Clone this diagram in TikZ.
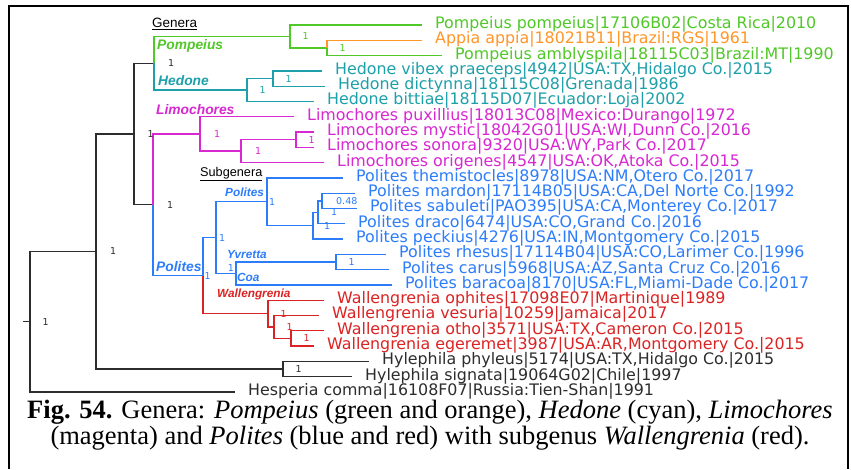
\documentclass[tikz,border=0pt]{standalone}
\usepackage{fontspec}
\setmainfont{DejaVu Sans}
\newfontfamily\cladefont{Liberation Sans}
\newfontfamily\capfont{Liberation Serif}
\usetikzlibrary{positioning}
\definecolor{PMgreen}{RGB}{80,200,40}
\definecolor{PMorange}{RGB}{255,150,40}
\definecolor{HDcyan}{RGB}{30,160,170}
\definecolor{LMmagenta}{RGB}{215,40,210}
\definecolor{PLblue}{RGB}{45,125,250}
\definecolor{WLred}{RGB}{220,35,35}
\definecolor{OGgrey}{RGB}{45,45,45}

\begin{document}
\begin{tikzpicture}[
      x=1pt,y=-1pt,
      node distance=12.5pt,
      branch/.style={line width=1.3pt},
      leaf/.style={anchor=west,inner xsep=13pt,inner ysep=0pt,text height=0.68em,text depth=0pt,font=\fontsize{15.85}{16}\selectfont},
      support/.style={inner sep=0pt,font=\fontsize{9.5}{10}\selectfont},
      genus/.style={anchor=west,inner sep=0pt,font=\cladefont\bfseries\itshape\fontsize{13.8}{14}\selectfont},
      subgenus/.style={anchor=west,inner sep=0pt,font=\cladefont\bfseries\itshape\fontsize{11.8}{12}\selectfont},
      header/.style={anchor=west,inner sep=0pt,text=black,font=\cladefont\fontsize{13.5}{14}\selectfont},
      caption/.style={align=center,inner sep=0pt,font=\capfont\fontsize{26.5}{25.5}\selectfont}
    ]
    \useasboundingbox (0,0) rectangle (851,469);
    \fill[white] (0,0) rectangle (851,469);
    \draw[line width=2.5pt] (9,469) -- (9,6) -- (848,6) -- (848,469);

    % leaves
    \node[leaf,text=PMgreen] (pompeius) at (422,25.0) {Pompeius pompeius|17106B02|Costa Rica|2010};
    \node[leaf,text=PMorange] (appia) at (422,40.3) {Appia appia|18021B11|Brazil:RGS|1961};
    \node[leaf,text=PMgreen] (amblyspila) at (442,55.6) {Pompeius amblyspila|18115C03|Brazil:MT|1990};
    \node[leaf,text=HDcyan] (vibex) at (322,70.9) {Hedone vibex praeceps|4942|USA:TX,Hidalgo Co.|2015};
    \node[leaf,text=HDcyan] (dictynna) at (325,86.2) {Hedone dictynna|18115C08|Grenada|1986};
    \node[leaf,text=HDcyan] (bittiae) at (314,101.5) {Hedone bittiae|18115D07|Ecuador:Loja|2002};
    \node[leaf,text=LMmagenta] (puxillius) at (294,116.7) {Limochores puxillius|18013C08|Mexico:Durango|1972};
    \node[leaf,text=LMmagenta] (mystic) at (314,132.0) {Limochores mystic|18042G01|USA:WI,Dunn Co.|2016};
    \node[leaf,text=LMmagenta] (sonora) at (314,147.3) {Limochores sonora|9320|USA:WY,Park Co.|2017};
    \node[leaf,text=LMmagenta] (origenes) at (324,162.6) {Limochores origenes|4547|USA:OK,Atoka Co.|2015};
    \node[leaf,text=PLblue] (themistocles) at (343,177.9) {Polites themistocles|8978|USA:NM,Otero Co.|2017};
    \node[leaf,text=PLblue] (mardon) at (355,193.2) {Polites mardon|17114B05|USA:CA,Del Norte Co.|1992};
    \node[leaf,text=PLblue] (sabuleti) at (357,208.5) {Polites sabuleti|PAO395|USA:CA,Monterey Co.|2017};
    \node[leaf,text=PLblue] (draco) at (345,223.8) {Polites draco|6474|USA:CO,Grand Co.|2016};
    \node[leaf,text=PLblue] (peckius) at (343,239.1) {Polites peckius|4276|USA:IN,Montgomery Co.|2015};
    \node[leaf,text=PLblue] (rhesus) at (386,254.4) {Polites rhesus|17114B04|USA:CO,Larimer Co.|1996};
    \node[leaf,text=PLblue] (carus) at (389,269.7) {Polites carus|5968|USA:AZ,Santa Cruz Co.|2016};
    \node[leaf,text=PLblue] (baracoa) at (392,285.0) {Polites baracoa|8170|USA:FL,Miami-Dade Co.|2017};
    \node[leaf,text=WLred] (ophites) at (324,300.3) {Wallengrenia ophites|17098E07|Martinique|1989};
    \node[leaf,text=WLred] (vesuria) at (319,315.5) {Wallengrenia vesuria|10259|Jamaica|2017};
    \node[leaf,text=WLred] (otho) at (324,330.8) {Wallengrenia otho|3571|USA:TX,Cameron Co.|2015};
    \node[leaf,text=WLred] (egeremet) at (314,346.1) {Wallengrenia egeremet|3987|USA:AR,Montgomery Co.|2015};
    \node[leaf,text=OGgrey] (phyleus) at (369,361.4) {Hylephila phyleus|5174|USA:TX,Hidalgo Co.|2015};
    \node[leaf,text=OGgrey] (signata) at (352,376.7) {Hylephila signata|19064G02|Chile|1997};
    \node[leaf,text=OGgrey] (hesperia) at (235,392.0) {Hesperia comma|16108F07|Russia:Tien-Shan|1991};

    % internal nodes
    \coordinate (rootstub) at (23,321.75);
    \coordinate (root) at (30,321.75);
    \coordinate (n_out) at (96,251.5);
    \coordinate (n_ing) at (134,134.0);
    \coordinate (n_hyl) at (283,369.05);
    \coordinate (n_ph) at (154,63.25);
    \coordinate (n_pomp) at (290,36.5);
    \coordinate (n_pomp2) at (327,48.0);
    \coordinate (n_hed) at (247,90.0);
    \coordinate (n_hed2) at (273,78.55);
    \coordinate (n_lp) at (153,204.8);
    \coordinate (n_lim) at (200,133.9);
    \coordinate (n_lim2) at (241,151.1);
    \coordinate (n_lim3) at (296,139.65);
    \coordinate (n_pol) at (203,275.65);
    \coordinate (n_pol2) at (216,237.65);
    \coordinate (n_polsub) at (267,201.8);
    \coordinate (n_p1) at (313,225.7);
    \coordinate (n_p2) at (318,212.3);
    \coordinate (n_p3) at (322,200.85);
    \coordinate (n_yc) at (236,273.5);
    \coordinate (n_yv) at (336,262.05);
    \coordinate (n_wal) at (268,313.65);
    \coordinate (n_w2) at (274,327.0);
    \coordinate (n_w3) at (291,338.45);

    % outgroups
    \draw[branch,OGgrey] (rootstub) -- (root);
    \draw[branch,OGgrey] (root) |- (n_out);
    \draw[branch,OGgrey] (root) |- (hesperia.west);
    \draw[branch,OGgrey] (n_out) |- (n_ing);
    \draw[branch,OGgrey] (n_out) |- (n_hyl);
    \draw[branch,OGgrey] (n_hyl) |- (phyleus.west);
    \draw[branch,OGgrey] (n_hyl) |- (signata.west);
    \draw[branch,OGgrey] (n_ing) |- (n_ph);
    \draw[branch,OGgrey] (n_ing) |- (n_lp);
    % Pompeius
    \draw[branch,PMgreen] (n_ph) |- (n_pomp);
    \draw[branch,PMgreen] (n_pomp) |- (pompeius.west);
    \draw[branch,PMgreen] (n_pomp) |- (n_pomp2);
    \draw[branch,PMgreen] (n_pomp2) |- (amblyspila.west);
    \draw[branch,PMorange] (n_pomp2) |- (appia.west);
    % Hedone
    \draw[branch,HDcyan] (n_ph) |- (n_hed);
    \draw[branch,HDcyan] (n_hed) |- (n_hed2);
    \draw[branch,HDcyan] (n_hed) |- (bittiae.west);
    \draw[branch,HDcyan] (n_hed2) |- (vibex.west);
    \draw[branch,HDcyan] (n_hed2) |- (dictynna.west);
    % Limochores
    \draw[branch,LMmagenta] (n_lp) |- (n_lim);
    \draw[branch,LMmagenta] (n_lim) |- (puxillius.west);
    \draw[branch,LMmagenta] (n_lim) |- (n_lim2);
    \draw[branch,LMmagenta] (n_lim2) |- (n_lim3);
    \draw[branch,LMmagenta] (n_lim2) |- (origenes.west);
    \draw[branch,LMmagenta] (n_lim3) |- (mystic.west);
    \draw[branch,LMmagenta] (n_lim3) |- (sonora.west);
    % Polites
    \draw[branch,PLblue] (n_lp) |- (n_pol);
    \draw[branch,PLblue] (n_pol) |- (n_pol2);
    \draw[branch,PLblue] (n_pol2) |- (n_polsub);
    \draw[branch,PLblue] (n_pol2) |- (n_yc);
    \draw[branch,PLblue] (n_polsub) |- (themistocles.west);
    \draw[branch,PLblue] (n_polsub) |- (n_p1);
    \draw[branch,PLblue] (n_p1) |- (n_p2);
    \draw[branch,PLblue] (n_p1) |- (peckius.west);
    \draw[branch,PLblue] (n_p2) |- (n_p3);
    \draw[branch,PLblue] (n_p2) |- (draco.west);
    \draw[branch,PLblue] (n_p3) |- (mardon.west);
    \draw[branch,PLblue] (n_p3) |- (sabuleti.west);
    \draw[branch,PLblue] (n_yc) |- (n_yv);
    \draw[branch,PLblue] (n_yc) |- (baracoa.west);
    \draw[branch,PLblue] (n_yv) |- (rhesus.west);
    \draw[branch,PLblue] (n_yv) |- (carus.west);
    % Wallengrenia
    \draw[branch,WLred] (n_pol) |- (n_wal);
    \draw[branch,WLred] (n_wal) |- (ophites.west);
    \draw[branch,WLred] (n_wal) |- (n_w2);
    \draw[branch,WLred] (n_w2) |- (vesuria.west);
    \draw[branch,WLred] (n_w2) |- (n_w3);
    \draw[branch,WLred] (n_w3) |- (otho.west);
    \draw[branch,WLred] (n_w3) |- (egeremet.west);

    % support values
    \node[support,text=OGgrey,right=of root] (s_root) {1};
    \node[support,text=OGgrey,right=14pt of n_out] (s_out) {1};
    \node[support,text=OGgrey,right=13.5pt of n_ing] (s_ing) {1};
    \node[support,text=OGgrey,right=of n_hyl] (s_hyl) {1};
    \node[support,text=OGgrey,right=14pt of n_ph] (s_ph) {1};
    \node[support,text=PMgreen,right=of n_pomp] (s_pomp) {1};
    \node[support,text=PMgreen,right=of n_pomp2] (s_pomp2) {1};
    \node[support,text=HDcyan,right=of n_hed] (s_hed) {1};
    \node[support,text=HDcyan,right=of n_hed2] (s_hed2) {1};
    \node[support,text=OGgrey,right=14pt of n_lp] (s_lp) {1};
    \node[support,text=LMmagenta,right=14pt of n_lim] (s_lim) {1};
    \node[support,text=LMmagenta,right=14pt of n_lim2] (s_lim2) {1};
    \node[support,text=LMmagenta,right=of n_lim3] (s_lim3) {1};
    \node[support,text=PLblue,right=1.5pt of n_pol] (s_pol) {1};
    \node[support,text=PLblue,right=3pt of n_pol2] (s_pol2) {1};
    \node[support,text=PLblue,right=2pt of n_polsub] (s_polsub) {1};
    \node[support,text=PLblue,right=11pt of n_p1] (s_p1) {1};
    \node[support,text=PLblue,right=13pt of n_p2] (s_p2) {1};
    \node[support,text=PLblue,right=14pt of n_p3] (s_p3) {0.48};
    \node[support,text=PLblue,left=2pt of n_yc,yshift=5.5pt] (s_yc) {1};
    \node[support,text=PLblue,right=of n_yv] (s_yv) {1};
    \node[support,text=WLred,right=of n_wal] (s_wal) {1};
    \node[support,text=WLred,right=of n_w2] (s_w2) {1};
    \node[support,text=WLred,right=of n_w3] (s_w3) {1};

    % clade names
    \node[header] (genera) at (152,24) {\underline{Genera}};
    \node[genus,text=PMgreen] (l_pomp) at (157,46) {Pompeius};
    \node[genus,text=HDcyan] (l_hed) at (158,81) {Hedone};
    \node[genus,text=LMmagenta] (l_lim) at (156,110) {Limochores};
    \node[genus,text=PLblue] (l_pol) at (156,267) {Polites};
    \node[header,font=\cladefont\fontsize{12.7}{13}\selectfont] (subgenera) at (200,174) {\underline{Subgenera}};
    \node[subgenus,text=PLblue] (l_polsub) at (225,192) {Polites};
    \node[subgenus,text=PLblue] (l_yv) at (227,254) {Yvretta};
    \node[subgenus,text=PLblue] (l_coa) at (237,277) {Coa};
    \node[subgenus,text=WLred] (l_wal) at (217,294) {Wallengrenia};

    % caption
    \node[caption] (cap) at (430,425) {\textbf{Fig. 54.} Genera: \textit{Pompeius} (green and orange), \textit{Hedone} (cyan), \textit{Limochores}\\(magenta) and \textit{Polites} (blue and red) with subgenus \textit{Wallengrenia} (red).};
  \end{tikzpicture}
\end{document}
